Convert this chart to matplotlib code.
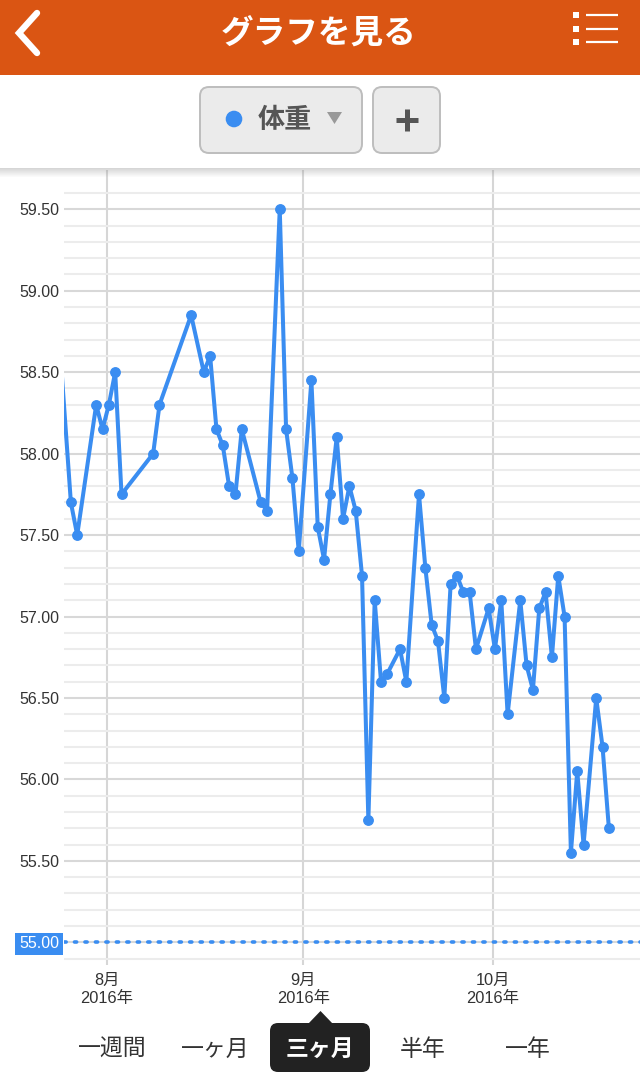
import numpy as np
import pandas as pd
import matplotlib
matplotlib.use("Agg")
import matplotlib.pyplot as plt
import matplotlib.dates as mdates
from matplotlib.patches import FancyBboxPatch, Rectangle, Circle, Polygon
from matplotlib.ticker import FixedLocator

# ---------------- data ----------------
dates = [
    "2016-07-24", "2016-07-26", "2016-07-27", "2016-07-30", "2016-07-31",
    "2016-08-01", "2016-08-02", "2016-08-03", "2016-08-08", "2016-08-09",
    "2016-08-14", "2016-08-16", "2016-08-17", "2016-08-18", "2016-08-19",
    "2016-08-20", "2016-08-21", "2016-08-22", "2016-08-25", "2016-08-26",
    "2016-08-28", "2016-08-29", "2016-08-30", "2016-08-31", "2016-09-02",
    "2016-09-03", "2016-09-04", "2016-09-05", "2016-09-06", "2016-09-07",
    "2016-09-08", "2016-09-09", "2016-09-10", "2016-09-11", "2016-09-12",
    "2016-09-13", "2016-09-14", "2016-09-16", "2016-09-17", "2016-09-19",
    "2016-09-20", "2016-09-21", "2016-09-22", "2016-09-23", "2016-09-24",
    "2016-09-25", "2016-09-26", "2016-09-27", "2016-09-28", "2016-09-30",
    "2016-10-01", "2016-10-02", "2016-10-03", "2016-10-05", "2016-10-06",
    "2016-10-07", "2016-10-08", "2016-10-09", "2016-10-10", "2016-10-11",
    "2016-10-12", "2016-10-13", "2016-10-14", "2016-10-15", "2016-10-17",
    "2016-10-18", "2016-10-19",
]
weights = [
    58.80, 57.70, 57.50, 58.30, 58.15,
    58.30, 58.50, 57.75, 58.00, 58.30,
    58.85, 58.50, 58.60, 58.15, 58.05,
    57.80, 57.75, 58.15, 57.70, 57.65,
    59.50, 58.15, 57.85, 57.40, 58.45,
    57.55, 57.35, 57.75, 58.10, 57.60,
    57.80, 57.65, 57.25, 55.75, 57.10,
    56.60, 56.65, 56.80, 56.60, 57.75,
    57.30, 56.95, 56.85, 56.50, 57.20,
    57.25, 57.15, 57.15, 56.80, 57.05,
    56.80, 57.10, 56.40, 57.10, 56.70,
    56.55, 57.05, 57.15, 56.75, 57.25,
    57.00, 55.55, 56.05, 55.60, 56.50,
    56.20, 55.70,
]
measure_hour = 7
goal_weight = 55.00
month_ticks = ["2016-08-01", "2016-09-01", "2016-10-01"]
month_labels = ["8月\n2016年", "9月\n2016年", "10月\n2016年"]
y_major = [55.0, 55.5, 56.0, 56.5, 57.0, 57.5, 58.0, 58.5, 59.0, 59.5]
y_labels = ["55.00", "55.50", "56.00", "56.50", "57.00", "57.50", "58.00", "58.50", "59.00", "59.50"]
view_start = "2016-07-25 04:55"
view_end = "2016-10-24 05:00"
y_range = (54.861, 59.741)
title = "グラフを見る"
series_name = "体重"
tabs = ["一週間", "一ヶ月", "三ヶ月", "半年", "一年"]
active_tab = 2

# ---------------- style ----------------
ORANGE = "#DA5513"
BLUE = "#3A8DF1"
TXT = "#333333"
W, H = 640, 1081
plt.rcParams['font.family'] = ['Noto Sans CJK JP', 'DejaVu Sans']

fig = plt.figure(figsize=(W / 100, H / 100), dpi=100)
fig.patch.set_facecolor("white")

# ---------------- chart ----------------
ax_l, ax_r, ax_t, ax_b = 64, 640, 170, 965
ax = fig.add_axes([ax_l / W, (H - ax_b) / H, (ax_r - ax_l) / W, (ax_b - ax_t) / H])
ax.set_facecolor("white")
for s in ax.spines.values():
    s.set_visible(False)

x = pd.to_datetime(dates) + pd.Timedelta(hours=measure_hour)
xn = mdates.date2num(x)
ax.plot(xn, weights, color=BLUE, lw=2.9, marker="o", ms=6.8, mfc=BLUE, mec=BLUE,
        solid_joinstyle="round", zorder=5)

ax.axhline(goal_weight, color=BLUE, lw=2.6, linestyle=(0, (0.6, 2.3)),
           dash_capstyle="round", zorder=4)

ax.set_xlim(mdates.date2num(pd.Timestamp(view_start)), mdates.date2num(pd.Timestamp(view_end)))
ax.set_ylim(*y_range)

ax.set_yticks(y_major)
ax.set_yticklabels(y_labels, fontfamily=['Liberation Sans'], fontsize=11.5, color=TXT)
minor_vals = [v / 10 for v in range(549, 597) if v % 5 != 0]
ax.yaxis.set_minor_locator(FixedLocator(minor_vals))
ax.set_xticks(mdates.date2num(pd.to_datetime(month_ticks)))
ax.set_xticklabels(month_labels, fontfamily=['Liberation Sans', 'Noto Sans CJK JP'],
                   fontsize=11.8, color=TXT, linespacing=1.22)
ax.tick_params(axis="both", which="both", length=0)
ax.tick_params(axis="y", pad=3.6)
ax.tick_params(axis="x", pad=6)
ax.grid(which="major", axis="y", color="#D8D8D8", lw=1.5, zorder=0)
ax.grid(which="minor", axis="y", color="#ECECEC", lw=1.5, zorder=0)
ax.grid(which="major", axis="x", color="#D6D6D6", lw=1.5, zorder=1)
ax.set_axisbelow(True)

for lab, v in zip(ax.get_yticklabels(), y_major):
    if v == goal_weight:
        lab.set_color("white")
        lab.set_bbox(dict(boxstyle="square,pad=0.22", fc=BLUE, ec="none"))

# ---------------- UI overlay ----------------
ui = fig.add_axes([0, 0, 1, 1], zorder=10)
ui.set_xlim(0, W)
ui.set_ylim(H, 0)
ui.axis("off")
ui.patch.set_alpha(0)

# header
ui.add_patch(Rectangle((0, 0), W, 75, fc=ORANGE, ec="none"))
ui.text(319, 34, title, color="white", fontsize=23.5, fontweight="bold", ha="center", va="center")
ui.plot([37, 19, 37], [13, 33, 53], color="white", lw=4.6, solid_capstyle="round",
        solid_joinstyle="miter")
for yy in (15, 29, 42):
    ui.add_patch(Rectangle((573, yy - 2.8), 5.6, 5.6, fc="white", ec="none"))
    ui.plot([586, 618], [yy, yy], color="white", lw=1.6, solid_capstyle="butt")

# shadow under selector strip
grad = np.zeros((10, 1, 4))
grad[..., :3] = 0.55
grad[:, 0, 3] = np.linspace(0.35, 0.0, 10)
ui.imshow(grad, extent=[0, W, 178, 168], aspect="auto", interpolation="bilinear", zorder=1)

# selector buttons
ui.add_patch(FancyBboxPatch((200, 87), 162, 66, boxstyle="round,pad=0,rounding_size=9",
                            fc="#EBEBEB", ec="#BDBDBD", lw=1.4, zorder=2))
ui.add_patch(Circle((234, 119), 8.3, fc=BLUE, ec="none", zorder=3))
ui.text(285, 120, series_name, color="#555555", fontsize=19.5, fontweight="bold",
        ha="center", va="center", zorder=3)
ui.add_patch(Polygon([[327, 112], [342, 112], [334.5, 124]], closed=True, fc="#999999",
                     ec="none", zorder=3))
ui.add_patch(FancyBboxPatch((373, 87), 67, 66, boxstyle="round,pad=0,rounding_size=9",
                            fc="#EBEBEB", ec="#BDBDBD", lw=1.4, zorder=2))
ui.plot([396, 418], [120, 120], color="#555555", lw=3.6, solid_capstyle="butt", zorder=3)
ui.plot([407, 407], [109, 131], color="#555555", lw=3.6, solid_capstyle="butt", zorder=3)

# period tabs
tab_x = [112, 215, 320, 423, 528]
for i, (t, tx) in enumerate(zip(tabs, tab_x)):
    if i == active_tab:
        ui.add_patch(FancyBboxPatch((270, 1023), 100, 49, boxstyle="round,pad=0,rounding_size=8",
                                    fc="#222222", ec="none", zorder=2))
        ui.add_patch(Polygon([[308, 1024], [333, 1024], [320.5, 1011]], closed=True,
                             fc="#222222", ec="none", zorder=2))
        ui.text(tx, 1049, t, color="white", fontsize=16.5, fontweight="bold",
                ha="center", va="center", zorder=3)
    else:
        ui.text(tx, 1049, t, color=TXT, fontsize=16.5, ha="center", va="center", zorder=3)

fig.savefig("out.png", dpi=100)
